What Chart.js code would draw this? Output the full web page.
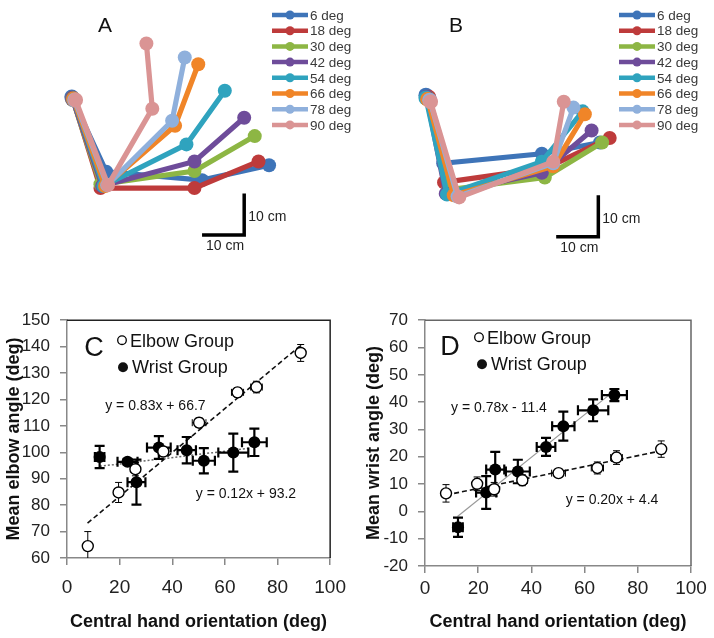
<!DOCTYPE html>
<html>
<head>
<meta charset="utf-8">
<script src="https://cdn.jsdelivr.net/npm/chart.js@4.4.1/dist/chart.umd.min.js"></script>
<style>
  body { margin: 0; background: #fff; }
  #wrap { position: relative; width: 714px; height: 638px; }
  canvas { position: absolute; }
</style>
</head>
<body>
<div id="wrap">
  <canvas id="cA" width="357" height="270" style="left:0;top:0"></canvas>
  <canvas id="cB" width="357" height="270" style="left:357px;top:0"></canvas>
  <canvas id="cC" width="357" height="338" style="left:0;top:300px"></canvas>
  <canvas id="cD" width="357" height="338" style="left:357px;top:300px"></canvas>
</div>
<script>
const FONT = "'Liberation Sans', Arial, sans-serif";

// target orientations (legend of A and B)
const angles = ['6 deg', '18 deg', '30 deg', '42 deg', '54 deg', '66 deg', '78 deg', '90 deg'];
const armColors = ['#3E74B8', '#BE3B3B', '#8DB644', '#6E4C9A', '#2FA3BE', '#F08528', '#8FB0DC', '#DA9494'];

// panel A: joint positions in cm, shoulder at origin
const shoulderA = [[-0.2, 0.5], [0, 0.2], [0, 0], [0, 0], [0.2, 0], [0.2, 0], [0.5, -0.2], [0.7, -0.2]];
const elbowA = [[8.0, -17.5], [6.6, -21.4], [6.6, -20.5], [7.0, -20.9], [7.3, -20.9], [7.7, -20.9], [8.2, -20.7], [8.4, -20.7]];
const wristA = [[30.7, -19.5], [28.9, -21.4], [28.9, -17.3], [28.9, -15.0], [27.0, -10.9], [24.3, -6.4], [23.6, -5.2], [18.9, -2.3]];
const handA = [[46.6, -15.9], [44.1, -15.0], [43.2, -8.9], [40.7, -4.5], [36.1, 2.0], [29.8, 8.4], [26.6, 10.0], [17.5, 13.4]];
const scaleBarA = [[30.7, -32.7], [40.7, -32.7], [40.7, -22.7]];

// panel B: joint positions in cm, shoulder at origin
const shoulderB = [[-0.2, 0.5], [0.5, 0], [0.2, -0.2], [0, 0], [-0.2, -0.2], [0.2, -0.5], [0.7, -0.7], [0.9, -1.1]];
const elbowB = [[3.9, -15.9], [4.1, -20.5], [5.0, -22.3], [4.5, -23.2], [4.8, -23.4], [6.4, -23.6], [7.3, -23.9], [7.7, -24.1]];
const wristB = [[27.3, -13.6], [28.4, -17.0], [28.0, -19.3], [27.3, -18.2], [27.3, -15.5], [30.0, -16.6], [30.0, -15.9], [30.0, -15.5]];
const handB = [[41.1, -10.9], [43.4, -9.8], [41.6, -10.9], [39.1, -8.0], [37.0, -3.4], [37.5, -4.1], [34.8, -2.5], [32.5, -1.1]];
const scaleBarB = [[30.7, -33.6], [40.7, -33.6], [40.7, -23.6]];

// central hand orientation (deg) per group, with SE
const elbowOri = [7.9, 19.6, 26.0, 36.6, 50.2, 64.8, 72.0, 88.8];
const elbowOriErr = [0.6, 1.0, 1.6, 1.9, 2.6, 2.3, 2.2, 1.6];
const wristOri = [12.4, 23.0, 26.4, 34.9, 45.5, 52.0, 63.2, 71.2];
const wristOriErr = [1.8, 3.8, 3.4, 4.5, 3.5, 4.2, 5.7, 4.7];

// panel C: mean elbow angle (deg)
const elbowGrpElbowAng = [64.5, 84.8, 93.6, 100.3, 111.2, 122.7, 124.7, 137.6];
const elbowGrpElbowErr = [5.5, 3.8, 2.5, 1.5, 1.8, 1.8, 2.2, 3.2];
const wristGrpElbowAng = [98.2, 96.4, 88.7, 101.8, 100.8, 96.8, 99.9, 103.8];
const wristGrpElbowErr = [4.2, 1.0, 8.5, 4.3, 5.0, 4.8, 7.2, 5.2];

// panel D: mean wrist angle (deg)
const elbowGrpWristAng = [6.6, 10.1, 8.1, 11.4, 14.0, 15.9, 19.7, 22.8];
const elbowGrpWristErr = [3.2, 2.5, 2.5, 2.0, 1.5, 2.2, 2.5, 3.0];
const wristGrpWristAng = [-5.8, 6.9, 15.3, 14.6, 23.6, 31.2, 37.0, 42.6];
const wristGrpWristErr = [3.5, 6.0, 6.5, 4.3, 3.3, 5.3, 4.0, 2.2];

// regression line end points as drawn
const fitC_elbow = [[7.8, 73.2], [88.5, 140.2]];
const fitC_wrist = [[12.5, 94.7], [69.0, 101.5]];
const fitD_elbow = [[8.0, 6.0], [89.0, 22.2]];
const fitD_wrist = [[12.2, -1.9], [71.5, 44.4]];

const xy = arr => arr.map(p => ({ x: p[0], y: p[1] }));
const pairs = (xs, ys) => xs.map((v, i) => ({ x: v, y: ys[i] }));

// ---- arm posture panels ----
const armDecor = {
  id: 'armDecor',
  afterDraw(chart, args, o) {
    const ctx = chart.ctx;
    const sx = chart.scales.x, sy = chart.scales.y;
    ctx.save();
    // legend
    angles.forEach((a, i) => {
      const y = 15 + i * 15.7;
      ctx.strokeStyle = armColors[i];
      ctx.lineWidth = 4.5;
      ctx.beginPath();
      ctx.moveTo(o.legendX, y);
      ctx.lineTo(o.legendX + 36, y);
      ctx.stroke();
      ctx.fillStyle = armColors[i];
      ctx.beginPath();
      ctx.arc(o.legendX + 18, y, 4.5, 0, Math.PI * 2);
      ctx.fill();
      ctx.fillStyle = '#3a3a3a';
      ctx.font = '13.5px ' + FONT;
      ctx.textAlign = 'left';
      ctx.textBaseline = 'middle';
      ctx.fillText(a, o.legendX + 38, y + 1);
    });
    // panel letter
    ctx.fillStyle = '#111';
    ctx.font = '21px ' + FONT;
    ctx.textAlign = 'center';
    ctx.fillText(o.letter, o.letterX, 26);
    // scale bar labels
    const bar = o.bar;
    const cx = sx.getPixelForValue(bar[1][0]);
    const cy = sy.getPixelForValue(bar[1][1]);
    const ty = sy.getPixelForValue(bar[2][1]);
    const lx = sx.getPixelForValue(bar[0][0]);
    ctx.font = '14px ' + FONT;
    ctx.fillStyle = '#222';
    ctx.textAlign = 'left';
    ctx.fillText('10 cm', cx + 4, (cy + ty) / 2 + 3);
    ctx.textAlign = 'center';
    ctx.fillText('10 cm', (cx + lx) / 2 + 2, cy + 11);
    ctx.restore();
  }
};

function armChart(id, shoulder, elbow, wrist, hand, bar, xr, yr, legendX, letter, letterX) {
  const datasets = angles.map((a, i) => ({
    label: a,
    data: xy([shoulder[i], elbow[i], wrist[i], hand[i]]),
    showLine: true,
    borderColor: armColors[i],
    backgroundColor: armColors[i],
    borderWidth: 5.2,
    pointRadius: [7.5, 7, 7, 7],
    pointBorderWidth: 0,
    order: 8 - i,
    clip: false
  }));
  datasets.push({
    data: xy(bar),
    showLine: true,
    borderColor: '#000',
    borderWidth: 3.5,
    borderJoinStyle: 'miter',
    pointRadius: 0,
    order: 0
  });
  new Chart(document.getElementById(id), {
    type: 'scatter',
    data: { datasets },
    options: {
      responsive: false,
      animation: false,
      events: [],
      layout: { padding: 0 },
      scales: {
        x: { display: false, min: xr[0], max: xr[1] },
        y: { display: false, min: yr[0], max: yr[1] }
      },
      plugins: {
        legend: { display: false },
        tooltip: { enabled: false },
        armDecor: { legendX, letter, letterX, bar }
      }
    },
    plugins: [armDecor]
  });
}

armChart('cA', shoulderA, elbowA, wristA, handA, scaleBarA, [-15.45, 65.68], [-39.32, 22.05], 272, 'A', 105);
armChart('cB', shoulderB, elbowB, wristB, handB, scaleBarB, [-14.77, 66.36], [-39.77, 21.59], 262, 'B', 99);

// ---- angle vs orientation panels ----
const errorBars = {
  id: 'errorBars',
  beforeDatasetDraw(chart, args) {
    const ds = chart.data.datasets[args.index];
    if (!ds.errY) return;
    const sx = chart.scales.x, sy = chart.scales.y, ca = chart.chartArea;
    const ctx = chart.ctx;
    ctx.save();
    ctx.beginPath();
    ctx.rect(ca.left, ca.top - 10, ca.right - ca.left, ca.bottom - ca.top + 10);
    ctx.clip();
    ctx.strokeStyle = '#000';
    ctx.lineWidth = ds.errWidth;
    const c = ds.errCap;
    ds.data.forEach((p, i) => {
      const px = sx.getPixelForValue(p.x), py = sy.getPixelForValue(p.y);
      const y0 = sy.getPixelForValue(p.y - ds.errY[i]);
      const y1 = sy.getPixelForValue(p.y + ds.errY[i]);
      const x0 = sx.getPixelForValue(p.x - ds.errX[i]);
      const x1 = sx.getPixelForValue(p.x + ds.errX[i]);
      ctx.beginPath();
      ctx.moveTo(px, y0); ctx.lineTo(px, y1);
      ctx.moveTo(px - c, y0); ctx.lineTo(px + c, y0);
      ctx.moveTo(px - c, y1); ctx.lineTo(px + c, y1);
      ctx.moveTo(x0, py); ctx.lineTo(x1, py);
      ctx.moveTo(x0, py - c); ctx.lineTo(x0, py + c);
      ctx.moveTo(x1, py - c); ctx.lineTo(x1, py + c);
      ctx.stroke();
    });
    ctx.restore();
  }
};

const plotDecor = {
  id: 'plotDecor',
  afterDraw(chart, args, o) {
    const ctx = chart.ctx, ca = chart.chartArea;
    const sx = chart.scales.x, sy = chart.scales.y;
    ctx.save();
    // frame top / right
    ctx.strokeStyle = o.frameColor;
    ctx.lineWidth = 1.5;
    ctx.beginPath();
    ctx.moveTo(ca.left, ca.top);
    ctx.lineTo(ca.right, ca.top);
    ctx.lineTo(ca.right, ca.bottom);
    ctx.stroke();
    // panel letter
    ctx.fillStyle = '#111';
    ctx.font = '27px ' + FONT;
    ctx.textAlign = 'center';
    ctx.textBaseline = 'middle';
    ctx.fillText(o.letter, ca.left + o.letterDx, ca.top + o.letterDy);
    // legend
    ctx.font = '18px ' + FONT;
    ctx.textAlign = 'left';
    ctx.lineWidth = 1.3;
    ctx.strokeStyle = '#000';
    ctx.fillStyle = '#fff';
    ctx.beginPath();
    ctx.arc(ca.left + o.leg[0], ca.top + o.leg[1], 4.3, 0, Math.PI * 2);
    ctx.fill();
    ctx.stroke();
    ctx.fillStyle = '#111';
    ctx.fillText('Elbow Group', ca.left + o.leg[0] + 8, ca.top + o.leg[1] + 2);
    ctx.beginPath();
    ctx.arc(ca.left + o.leg[2], ca.top + o.leg[3], 5, 0, Math.PI * 2);
    ctx.fill();
    ctx.fillText('Wrist Group', ca.left + o.leg[2] + 9, ca.top + o.leg[3] + 1);
    // regression equations
    ctx.font = '14px ' + FONT;
    ctx.textAlign = 'center';
    o.eqs.forEach(e => {
      ctx.fillText(e[0], sx.getPixelForValue(e[1]), sy.getPixelForValue(e[2]));
    });
    ctx.restore();
  }
};

function anglePanel(id, p) {
  const tickFont = { family: FONT, size: 17 };
  const titleFont = { family: FONT, size: 18, weight: 'bold' };
  new Chart(document.getElementById(id), {
    type: 'scatter',
    data: {
      datasets: [
        {
          data: xy(p.fitElbow), showLine: true, pointRadius: 0,
          borderColor: '#111', borderWidth: 1.6, borderDash: [5, 3], order: 4
        },
        {
          data: xy(p.fitWrist), showLine: true, pointRadius: 0,
          borderColor: p.wristFitColor, borderWidth: p.wristFitWidth, borderDash: p.wristFitDash, order: 3
        },
        {
          data: pairs(wristOri, p.wristY), errX: wristOriErr, errY: p.wristErr,
          errWidth: 2.2, errCap: 5,
          pointRadius: 6, backgroundColor: '#000', borderColor: '#000', borderWidth: 0, order: 2
        },
        {
          data: pairs(elbowOri, p.elbowY), errX: elbowOriErr, errY: p.elbowErr,
          errWidth: 1, errCap: 3.5,
          pointRadius: 5.5, backgroundColor: '#fff', borderColor: '#000', borderWidth: 1.4, order: 1
        }
      ]
    },
    options: {
      responsive: false,
      animation: false,
      events: [],
      layout: { padding: { top: p.padTop, right: p.padRight, left: 0, bottom: 0 } },
      scales: {
        x: {
          type: 'linear', min: 0, max: 100,
          afterFit(s) { s.height = p.xAxisH; },
          ticks: { stepSize: 20, color: '#222', font: { family: FONT, size: 19 }, padding: p.xTickPad, maxRotation: 0, autoSkip: false },
          grid: { drawOnChartArea: false, tickLength: 7, color: '#888', lineWidth: 1.5 },
          border: { color: '#888', width: 1.5 },
          title: { display: true, text: 'Central hand orientation (deg)', color: '#111', font: titleFont, padding: { top: 0, bottom: 5 } }
        },
        y: {
          min: p.yMin, max: p.yMax,
          afterFit(s) { s.width = p.yAxisW; },
          ticks: { stepSize: 10, color: '#222', font: tickFont, padding: 10 },
          grid: { drawOnChartArea: false, tickLength: 7, color: '#888', lineWidth: 1.5 },
          border: { color: '#888', width: 1.5 },
          title: { display: true, text: p.yTitle, color: '#111', font: titleFont, padding: { top: p.yTitlePad, bottom: 0 } }
        }
      },
      plugins: {
        legend: { display: false },
        tooltip: { enabled: false },
        plotDecor: p.decor
      }
    },
    plugins: [errorBars, plotDecor]
  });
}

anglePanel('cC', {
  yMin: 60, yMax: 150, yTitle: 'Mean elbow angle (deg)',
  elbowY: elbowGrpElbowAng, elbowErr: elbowGrpElbowErr,
  wristY: wristGrpElbowAng, wristErr: wristGrpElbowErr,
  fitElbow: fitC_elbow, fitWrist: fitC_wrist,
  wristFitColor: '#666', wristFitWidth: 1.5, wristFitDash: [2, 2],
  padTop: 15, padRight: 25, xAxisH: 80, yAxisW: 67, xTickPad: 11, yTitlePad: 3,
  decor: {
    frameColor: '#222', letter: 'C', letterDx: 27, letterDy: 28,
    leg: [55, 20, 56, 47],
    eqs: [['y = 0.83x + 66.7', 33.6, 117.4], ['y = 0.12x + 93.2', 68, 84.1]]
  }
});

anglePanel('cD', {
  yMin: -20, yMax: 70, yTitle: 'Mean wrist angle (deg)',
  elbowY: elbowGrpWristAng, elbowErr: elbowGrpWristErr,
  wristY: wristGrpWristAng, wristErr: wristGrpWristErr,
  fitElbow: fitD_elbow, fitWrist: fitD_wrist,
  wristFitColor: '#999', wristFitWidth: 1.2, wristFitDash: [],
  padTop: 18, padRight: 23, xAxisH: 72, yAxisW: 68, xTickPad: 4, yTitlePad: 6,
  decor: {
    frameColor: '#666', letter: 'D', letterDx: 25, letterDy: 27,
    leg: [54, 17, 57, 44],
    eqs: [['y = 0.78x - 11.4', 27.8, 37.7], ['y = 0.20x + 4.4', 70.3, 4.0]]
  }
});
</script>
</body>
</html>
